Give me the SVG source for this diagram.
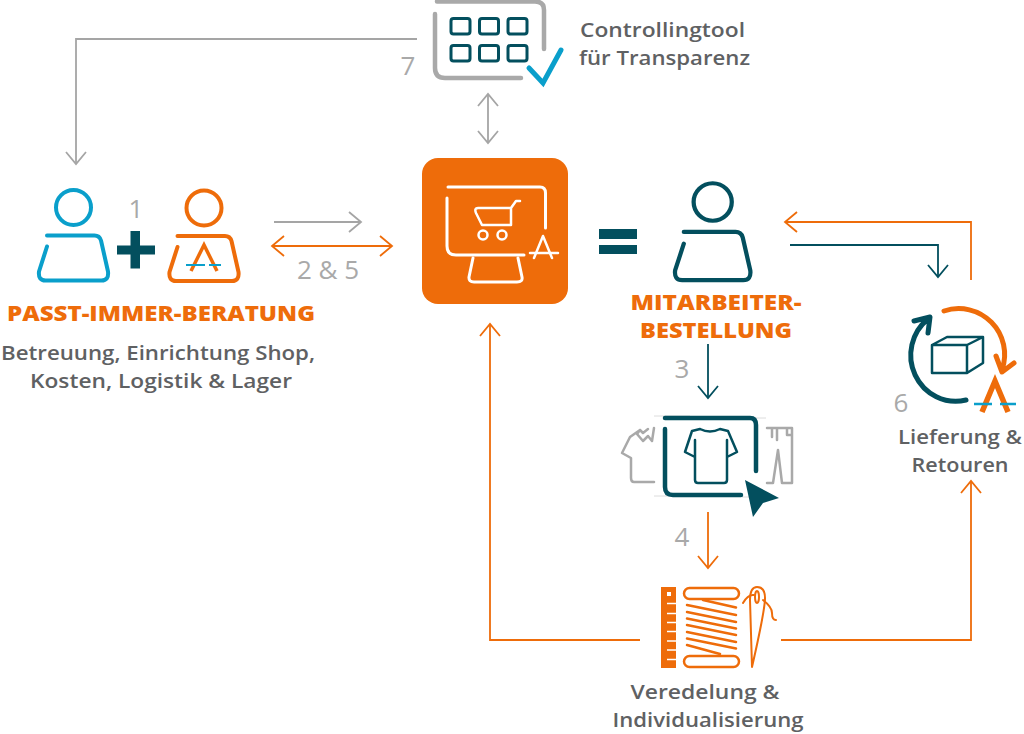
<svg xmlns="http://www.w3.org/2000/svg" width="1024" height="734" viewBox="0 0 1024 734">
<style>
text{font-family:"Open Sans","Liberation Sans",sans-serif}
.lbl{font-size:20.500px;font-weight:600;fill:#5f6163;text-anchor:middle}
.hd{font-size:21px;font-weight:800;fill:#ee6c0a;text-anchor:middle}
.num{font-size:26px;fill:#a9a9a9;text-anchor:middle}
.c{fill:none;stroke-width:1.8}
.o{stroke:#ee6c0a}.g{stroke:#a5a5a5}.t{stroke:#034f5e}
.i{fill:none;stroke-linecap:round;stroke-linejoin:round}
</style>
<defs>
<g id="person"><circle cx="0" cy="0" r="17.500"/><path d="M-26.500,28H21Q26,28 27.500,33L34.500,64Q35.500,73 28,73H-28Q-35.500,73 -34.500,64L-26.500,39"/></g>
<marker id="ho" markerWidth="16" markerHeight="24" refX="13" refY="12" orient="auto-start-reverse" markerUnits="userSpaceOnUse"><path d="M1,2L13,12L1,22" fill="none" stroke="#ee6c0a" stroke-width="1.800"/></marker>
<marker id="hg" markerWidth="16" markerHeight="24" refX="13" refY="12" orient="auto-start-reverse" markerUnits="userSpaceOnUse"><path d="M1,2L13,12L1,22" fill="none" stroke="#a5a5a5" stroke-width="1.800"/></marker>
<marker id="ht" markerWidth="16" markerHeight="24" refX="13" refY="12" orient="auto-start-reverse" markerUnits="userSpaceOnUse"><path d="M1,2L13,12L1,22" fill="none" stroke="#034f5e" stroke-width="1.800"/></marker>
</defs>

<g id="connectors">
<path class="c g" d="M417,39H76V164" marker-end="url(#hg)"/>
<path class="c g" d="M488,94V143" marker-start="url(#hg)" marker-end="url(#hg)"/>
<path class="c g" d="M274,222H361" marker-end="url(#hg)"/>
<path class="c o" d="M272,246H392" marker-start="url(#ho)" marker-end="url(#ho)"/>
<path class="c o" d="M971,280V222H785" marker-end="url(#ho)"/>
<path class="c t" d="M790,245H938V277" marker-end="url(#ht)"/>
<path class="c t" d="M708,344V398" marker-end="url(#ht)"/>
<path class="c o" d="M708,512V568" marker-end="url(#ho)"/>
<path class="c o" d="M640,640H490V324" marker-end="url(#ho)"/>
<path class="c o" d="M781,640H971V481" marker-end="url(#ho)"/>
</g>

<g id="controllingtool">
<path class="i" stroke="#a9a9a9" stroke-width="4.500" d="M437,1.500H535Q544,1.500 544,10V49M435,14V68Q435,78 445,78H521"/>
<g fill="none" stroke="#034f5e" stroke-width="3">
<rect x="451" y="18.500" width="19" height="15.500" rx="2.500"/><rect x="479.500" y="18.500" width="19" height="15.500" rx="2.500"/><rect x="508" y="18.500" width="19" height="15.500" rx="2.500"/>
<rect x="451" y="45.500" width="19" height="15.500" rx="2.500"/><rect x="479.500" y="45.500" width="19" height="15.500" rx="2.500"/><rect x="508" y="45.500" width="19" height="15.500" rx="2.500"/>
</g>
<path fill="none" stroke="#0a9fcb" stroke-width="5" stroke-linecap="round" d="M529,68L543,83L561,50"/>
<text class="lbl" x="662.500" y="37" textLength="165" lengthAdjust="spacingAndGlyphs">Controllingtool</text>
<text class="lbl" x="664.500" y="65" textLength="171" lengthAdjust="spacingAndGlyphs">für Transparenz</text>
<text class="num" x="408" y="75">7</text>
</g>

<g id="beratung">
<use href="#person" x="73.500" y="207.500" class="i" stroke="#0a9fcb" stroke-width="4"/>
<use href="#person" x="204" y="208" class="i" stroke="#ee6c0a" stroke-width="4"/>
<path fill="none" stroke="#ee6c0a" stroke-width="3.500" d="M191,271L204,245L217,271"/>
<path stroke="#0a9fcb" stroke-width="2" d="M186,265H205M209,265H221"/>
<path fill="#034f5e" d="M130.500,231H140V245.500H155V254.500H140V268.500H130.500V254.500H117V245.500H130.500Z"/>
<text class="num" x="136" y="218">1</text>
<text class="num" x="328" y="279">2 &amp; 5</text>
<text class="hd" x="161" y="321" textLength="308" lengthAdjust="spacingAndGlyphs">PASST-IMMER-BERATUNG</text>
<text class="lbl" x="158" y="360" textLength="314" lengthAdjust="spacingAndGlyphs">Betreuung, Einrichtung Shop,</text>
<text class="lbl" x="161" y="388" textLength="262" lengthAdjust="spacingAndGlyphs">Kosten, Logistik &amp; Lager</text>
</g>

<g id="shop">
<rect x="422" y="158" width="146" height="146" rx="16" fill="#ee6c0a"/>
<g class="i" stroke="#fff" stroke-width="3">
<path d="M448,187H540Q545.500,187 545.500,193V228M447,198V246Q447,255 456,255H524"/>
<path d="M473,258L469,277Q468.500,282 474,282H517Q523,282 522,277L518,258"/>
</g>
<g class="i" stroke="#fff" stroke-width="2.500">
<path d="M520,201H516L511,208V225H482L476,213Q474,208 478,208H511"/>
<circle cx="483" cy="235" r="4.500"/><circle cx="502" cy="235" r="4.500"/>
<path d="M534,258L543,236L552,258"/><path d="M530,253H558"/>
</g>
</g>

<g id="mitarbeiter">
<path fill="#034f5e" d="M599,229H637V239H599ZM599,245H637V254H599Z"/>
<g transform="translate(712.700,202) scale(1.090,1.070)"><use href="#person" class="i" stroke="#034f5e" stroke-width="3.900"/></g>
<text class="hd" x="716" y="310" textLength="171" lengthAdjust="spacingAndGlyphs">MITARBEITER-</text>
<text class="hd" x="716" y="338" textLength="152" lengthAdjust="spacingAndGlyphs">BESTELLUNG</text>
<text class="num" x="682" y="378">3</text>
</g>

<g id="katalog">
<g fill="none" stroke="#dcdcdc" stroke-width="1"><path d="M654,416H690M754,418H766M654,496H668M742,497H760"/></g>
<g class="i" stroke="#a9a9a9" stroke-width="2.500">
<path d="M654,482H634Q631,482 631,478V458L622,453L630,437L640,430L643,433L648,429M640,430L637,434L643,441L648,436L652,441L654,428"/>
<path d="M767,428H792V483H782L778,450L773,483H767M772,429V437M777,429V440M787,429V435H792"/>
</g>
<g class="i" stroke="#034f5e" stroke-width="4.500">
<path d="M665,418H750Q756,418 756,425V471M665,429V487Q665,495 673,495H741"/>
</g>
<g class="i" stroke="#034f5e" stroke-width="2.500">
<path d="M700,429Q710,434 720,429L728,431L737,452L727,457M700,429L692,431L685,452L695,457M695,440V480Q695,483 698,483H724Q727,483 727,480V440"/>
</g>
<path fill="#034f5e" d="M745,480L779,498L763,503L753,517Z"/>
<text class="num" x="682" y="546">4</text>
</g>

<g id="veredelung">
<rect x="661" y="587" width="15" height="81" fill="#ee6c0a"/>
<rect x="667" y="592" width="4" height="4" fill="#fff"/>
<path stroke="#fff" stroke-width="1.500" d="M667,603.500H676M667,613.500H676M667,622.500H676M667,631.500H676M667,641H676M667,650H676M667,659.500H676"/>
<g class="i" stroke="#ee6c0a" stroke-width="2.500">
<rect x="684" y="588" width="55" height="11" rx="5.500"/><rect x="684" y="656" width="55" height="11" rx="5.500"/>
<path d="M703,600L736,607.500M687,605L736,615M687,612L736,622M687,618.500L736,628.500M687,625L736,635M687,632L736,642M687,638.500L736,648.500M687,645L720,654"/>
</g>
<g class="i" stroke="#ee6c0a" stroke-width="2">
<path d="M752,667L750,600Q750,587 757,587Q765,587 765,598Q765,610 752,667Z"/>
<ellipse cx="757" cy="597" rx="2" ry="6"/>
<path d="M743,603Q748,594 754,595M763,600Q772,607 772,613Q772,620 776,620"/>
</g>
<text class="lbl" x="705" y="699" textLength="149" lengthAdjust="spacingAndGlyphs">Veredelung &amp;</text>
<text class="lbl" x="708" y="727" textLength="191" lengthAdjust="spacingAndGlyphs">Individualisierung</text>
</g>

<g id="lieferung">
<path class="i" stroke="#034f5e" stroke-width="5" d="M966,400A45,46 0 0 1 928,319M914,321L930,317L928,333"/>
<path class="i" stroke="#ee6c0a" stroke-width="5" d="M944,311A46,46 0 0 1 1002,370M996,356L1002,372L1014,363"/>
<path class="i" stroke="#034f5e" stroke-width="2.500" d="M932,345H967V373H932ZM932,345L947,337H983L967,345M983,337V363L967,373"/>
<path fill="none" stroke="#ee6c0a" stroke-width="5.500" d="M982,412L995,381L1008,412"/>
<path stroke="#0a9fcb" stroke-width="2.500" d="M974,404H992M1000,404H1016"/>
<text class="num" x="901" y="412">6</text>
<text class="lbl" x="960" y="444" textLength="124" lengthAdjust="spacingAndGlyphs">Lieferung &amp;</text>
<text class="lbl" x="960" y="472" textLength="97" lengthAdjust="spacingAndGlyphs">Retouren</text>
</g>
</svg>
